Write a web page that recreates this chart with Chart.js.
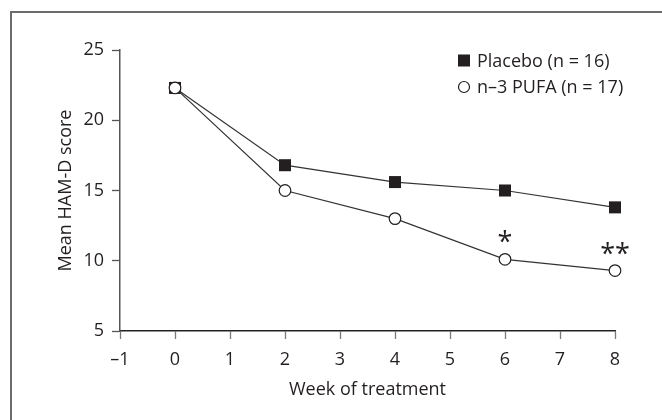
<!DOCTYPE html>
<html>
<head>
<meta charset="utf-8">
<script src="https://cdn.jsdelivr.net/npm/chart.js"></script>
<style>
  html, body { margin: 0; padding: 0; background: #fff; }
  canvas { display: block; }
</style>
</head>
<body>
<canvas id="chart" width="662" height="420"></canvas>
<script>
// values
const weeks = [0, 2, 4, 6, 8];
const placebo = [22.3, 16.8, 15.6, 15.0, 13.8];
const pufa = [22.3, 15.0, 13.0, 10.1, 9.3];
const seriesNames = ["Placebo (n = 16)", "n\u20133 PUFA (n = 17)"];
const xTickLabels = ["\u20131", "0", "1", "2", "3", "4", "5", "6", "7", "8"];
const yTicks = [5, 10, 15, 20, 25];
const sigWeeks = [6, 8];
const sigMarks = ["*", "**"];

const FONT = '"Open Sans", "Noto Sans", sans-serif';
const INK = "#231f20";
const TEXT = "#231f20";
Chart.defaults.font.family = FONT;
Chart.defaults.font.size = 18;
Chart.defaults.color = TEXT;

// grey frame round the figure (left and top edges only)
const framePlugin = {
  id: "frame",
  beforeDraw(chart) {
    const ctx = chart.ctx;
    ctx.save();
    ctx.fillStyle = "#fff";
    ctx.fillRect(0, 0, chart.width, chart.height);
    ctx.strokeStyle = "#6b6b6b";
    ctx.lineWidth = 2;
    ctx.beginPath();
    ctx.moveTo(11, chart.height);
    ctx.lineTo(11, 12);
    ctx.lineTo(chart.width, 12);
    ctx.stroke();
    ctx.restore();
  }
};

// legend in the top right corner + significance stars
const extrasPlugin = {
  id: "extras",
  afterDraw(chart) {
    const ctx = chart.ctx;
    const { x, y } = chart.scales;
    ctx.save();

    // legend
    const lx = 464, rows = [60.5, 87];
    ctx.fillStyle = INK;
    ctx.fillRect(lx - 6, rows[0] - 6, 12, 12);
    ctx.beginPath();
    ctx.arc(lx, rows[1], 5.5, 0, Math.PI * 2);
    ctx.fillStyle = "#fff";
    ctx.fill();
    ctx.lineWidth = 1.2;
    ctx.strokeStyle = INK;
    ctx.stroke();
    ctx.font = "18px " + FONT;
    ctx.fillStyle = TEXT;
    ctx.textBaseline = "middle";
    ctx.textAlign = "left";
    seriesNames.forEach((name, i) => ctx.fillText(name, 477, rows[i] + 1));

    // stars above the n-3 PUFA points
    ctx.font = "27px " + FONT;
    ctx.textAlign = "center";
    ctx.textBaseline = "alphabetic";
    sigWeeks.forEach((w, i) => {
      const idx = weeks.indexOf(w);
      ctx.fillText(sigMarks[i], x.getPixelForValue(w), y.getPixelForValue(pufa[idx]) - 8);
    });
    ctx.restore();
  }
};

new Chart(document.getElementById("chart"), {
  type: "line",
  data: {
    datasets: [
      {
        label: seriesNames[0],
        data: weeks.map((w, i) => ({ x: w, y: placebo[i] })),
        borderColor: "#333",
        borderWidth: 1.2,
        pointStyle: "rect",
        pointRadius: 8.5,
        pointBackgroundColor: INK,
        pointBorderColor: INK,
        pointBorderWidth: 0,
        clip: false,
        order: 1
      },
      {
        label: seriesNames[1],
        data: weeks.map((w, i) => ({ x: w, y: pufa[i] })),
        borderColor: "#333",
        borderWidth: 1.2,
        pointStyle: "circle",
        pointRadius: 5.8,
        pointBackgroundColor: "#fff",
        pointBorderColor: INK,
        pointBorderWidth: 1.2,
        clip: false,
        order: 0
      }
    ]
  },
  options: {
    responsive: false,
    animation: false,
    events: [],
    layout: { padding: { left: 0, top: 50, right: 47, bottom: 0 } },
    plugins: { legend: { display: false }, tooltip: { enabled: false } },
    elements: { line: { tension: 0 } },
    scales: {
      x: {
        type: "linear",
        min: -1,
        max: 8,
        afterFit(scale) { scale.height = 89; },
        afterBuildTicks(scale) {
          scale.ticks = xTickLabels.map((_, i) => ({ value: i - 1 }));
        },
        ticks: {
          color: TEXT,
          padding: 10,
          maxRotation: 0,
          callback: (v, i) => xTickLabels[i]
        },
        grid: { drawOnChartArea: false, tickLength: 8, tickColor: "#7a7a7a", tickWidth: 1.3 },
        border: { color: "#222", width: 1.5 },
        title: {
          display: true,
          text: "Week of treatment",
          color: TEXT,
          padding: { top: 0, bottom: 19 }
        }
      },
      y: {
        min: 5,
        max: 25,
        afterFit(scale) { scale.width = 120; },
        afterBuildTicks(scale) {
          scale.ticks = yTicks.map(v => ({ value: v }));
        },
        ticks: { color: TEXT, padding: 8 },
        grid: { drawOnChartArea: false, tickLength: 8, tickColor: "#555", tickWidth: 1.3 },
        border: { color: "#555", width: 1.5 },
        title: {
          display: true,
          text: "Mean HAM-D score",
          color: TEXT,
          padding: { top: 55, bottom: 0 }
        }
      }
    }
  },
  plugins: [framePlugin, extrasPlugin]
});
</script>
</body>
</html>
